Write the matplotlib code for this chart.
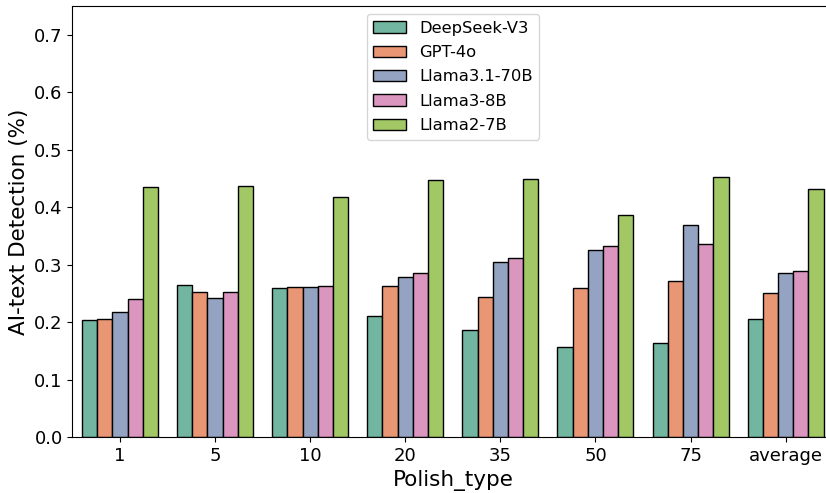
import pandas as pd
import seaborn as sns
import matplotlib
matplotlib.use("Agg")
import matplotlib.pyplot as plt

polish_types = ["1", "5", "10", "20", "35", "50", "75", "average"]
models = ["DeepSeek-V3", "GPT-4o", "Llama3.1-70B", "Llama3-8B", "Llama2-7B"]

deepseek_v3 = [0.203, 0.264, 0.259, 0.211, 0.186, 0.157, 0.164, 0.206]
gpt_4o = [0.206, 0.252, 0.261, 0.262, 0.243, 0.260, 0.272, 0.251]
llama31_70b = [0.218, 0.242, 0.261, 0.279, 0.304, 0.326, 0.368, 0.285]
llama3_8b = [0.240, 0.252, 0.263, 0.286, 0.312, 0.333, 0.336, 0.289]
llama2_7b = [0.435, 0.437, 0.417, 0.447, 0.449, 0.387, 0.452, 0.432]

scores = [deepseek_v3, gpt_4o, llama31_70b, llama3_8b, llama2_7b]
rows = []
for model, vals in zip(models, scores):
    for pt, v in zip(polish_types, vals):
        rows.append({"Polish_type": pt, "model": model, "score": v})
df = pd.DataFrame(rows)

fig = plt.figure(figsize=(8.26, 4.93), dpi=100)
# axes run slightly past the right edge of the canvas
ax = fig.add_axes([0.0877, 0.1136, 0.921, 0.8744])

sns.barplot(data=df, x="Polish_type", y="score", hue="model",
            order=polish_types, hue_order=models, palette="Set2",
            edgecolor="black", linewidth=1.0, ax=ax)

ax.set_ylim(0, 0.75)
ax.set_yticks([0.0, 0.1, 0.2, 0.3, 0.4, 0.5, 0.6, 0.7])
ax.set_xlabel("Polish_type", fontsize=15.5)
ax.set_ylabel("AI-text Detection (%)", fontsize=15.5)
ax.tick_params(axis="both", labelsize=13)
ax.legend(loc="upper center", bbox_to_anchor=(0.5, 1.0), fontsize=11.8,
          labelspacing=0.57, title=None)

fig.savefig("out.png", dpi=100)
